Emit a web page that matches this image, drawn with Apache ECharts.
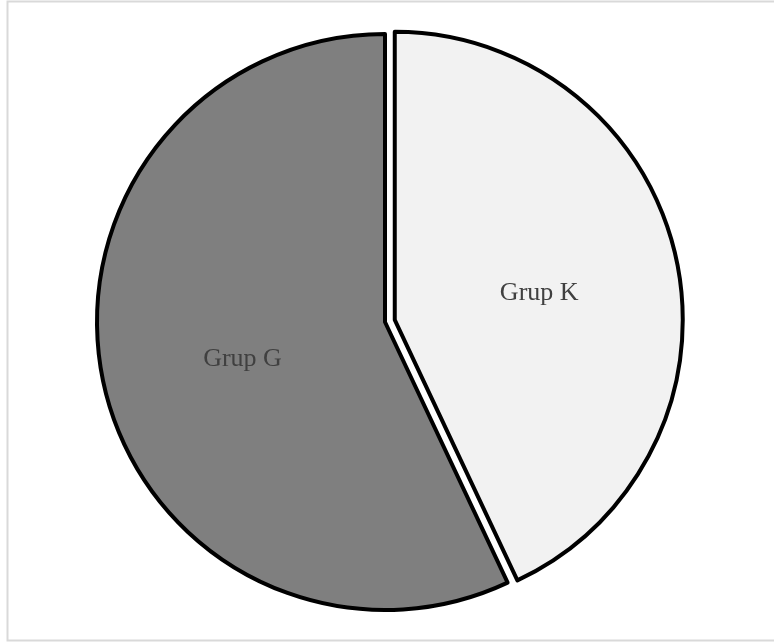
<!DOCTYPE html>
<html>
<head>
<meta charset="utf-8">
<script src="https://cdn.jsdelivr.net/npm/echarts@6/dist/echarts.min.js"></script>
<style>
  html, body { margin: 0; padding: 0; background: #fff; }
  #chart { width: 774px; height: 644px; }
</style>
</head>
<body>
<div id="chart"></div>
<script>
(function () {
  // data
  var categories = ["Grup K", "Grup G"];
  var values = [43, 57];
  var colors = ["#f2f2f2", "#7f7f7f"];
  var exploded = 0; // index of the pulled-out slice

  var myChart = echarts.init(document.getElementById("chart"));

  var cx = 385, cy = 322, pull = 10;
  // direction of the exploded slice's bisector
  var total = values.reduce(function (a, b) { return a + b; }, 0);
  var before = 0;
  for (var j = 0; j < exploded; j++) before += values[j];
  var mid = (before + values[exploded] / 2) / total * Math.PI * 2;
  var ox = Math.sin(mid) * pull, oy = -Math.cos(mid) * pull;

  function makeData(showIdx) {
    return categories.map(function (name, i) {
      var visible = showIdx(i);
      return {
        name: name,
        value: values[i],
        itemStyle: visible
          ? { color: colors[i], borderColor: "#000", borderWidth: 4 }
          : { color: "rgba(0,0,0,0)", borderWidth: 0 },
        label: { show: visible }
      };
    });
  }

  var baseSeries = {
    type: "pie",
    radius: 288,
    startAngle: 90,
    clockwise: true,
    silent: true,
    emphasis: { disabled: true },
    label: {
      position: "inner",
      color: "#404040",
      fontFamily: "Liberation Serif",
      fontSize: 26,
      offset: [1, 5]
    },
    labelLine: { show: false }
  };

  var option = {
    animation: false,
    graphic: [
      {
        type: "rect",
        shape: { x: 7.5, y: 1.5, width: 800, height: 639 },
        style: { fill: "none", stroke: "#d9d9d9", lineWidth: 2 },
        silent: true
      }
    ],
    series: [
      Object.assign({}, baseSeries, {
        center: [cx, cy],
        data: makeData(function (i) { return i !== exploded; })
      }),
      Object.assign({}, baseSeries, {
        center: [cx + ox, cy + oy],
        data: makeData(function (i) { return i === exploded; })
      })
    ]
  };

  myChart.setOption(option);
  window.addEventListener("resize", function () {
    myChart.resize();
  });
})();
</script>
</body>
</html>
